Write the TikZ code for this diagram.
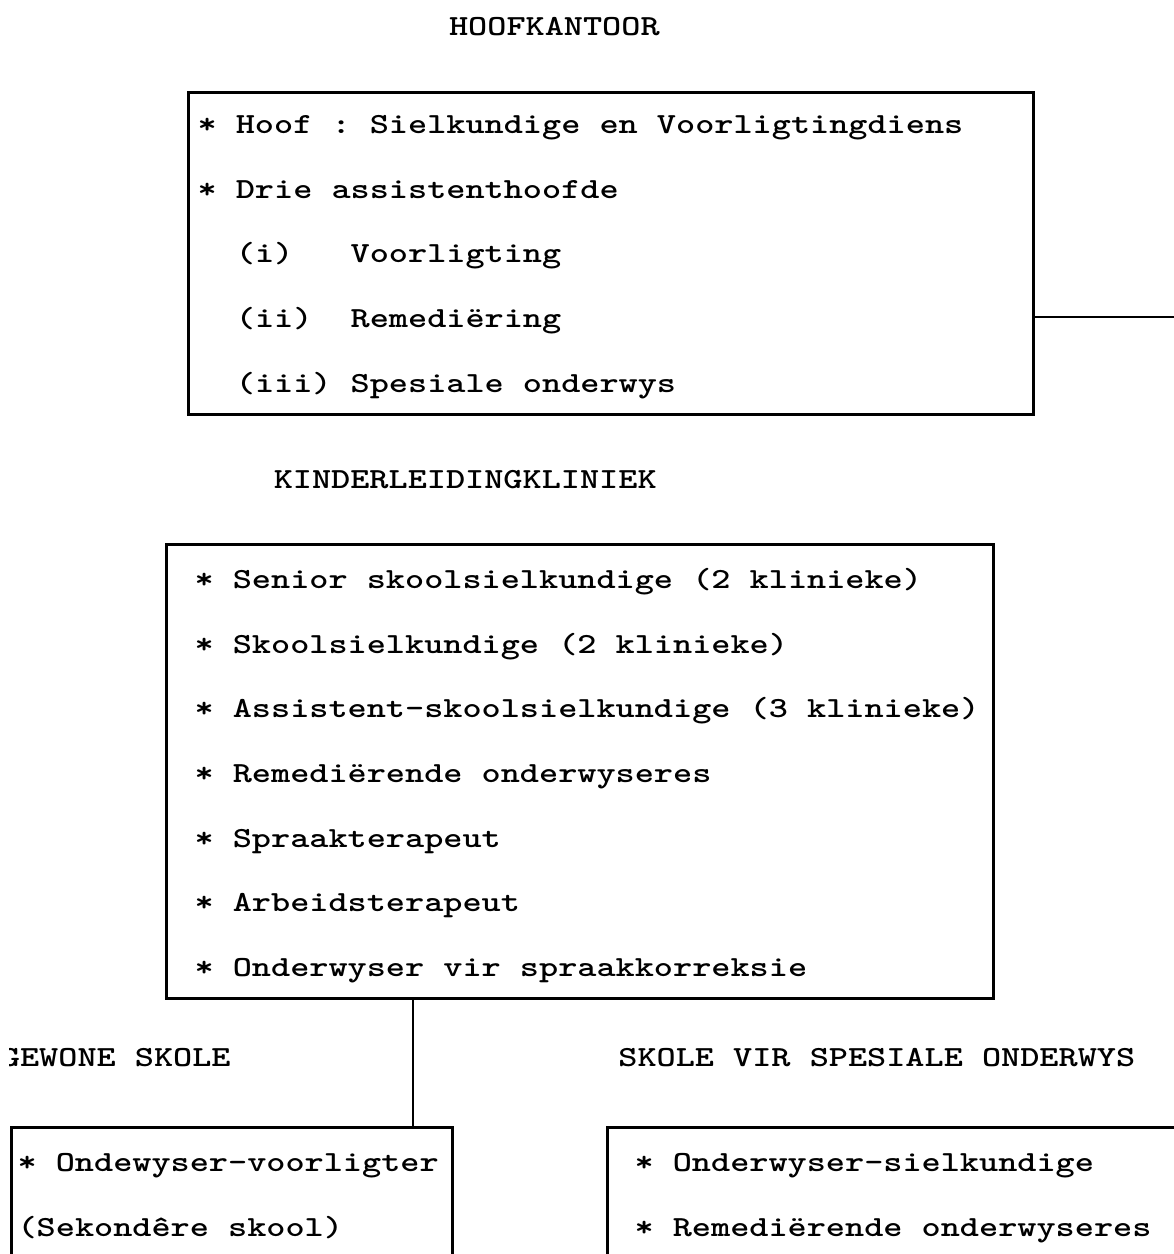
\documentclass[tikz,border=0pt]{standalone}
\usepackage{fontspec}
\usepackage{tikz}
\usetikzlibrary{positioning}
\newfontfamily\tikmono{lmmonolt10-bold.otf}[FakeStretch=1.25]

\tikzset{
  kop/.style={font={\tikmono\fontsize{16.6pt}{36.8pt}\selectfont\frenchspacing
    \spaceskip=10.89pt\relax}, inner sep=0pt},
  blok/.style={kop, draw, line width=1.8pt, anchor=north west, align=left,
    execute at begin node={\leftskip=#1\spaceskip=10.89pt\xspaceskip=10.89pt\relax}},
  lyn/.style={line width=1.6pt}
}

\begin{document}
\begin{tikzpicture}[x=0.2mm,y=-0.2mm]
        \useasboundingbox (0,0) rectangle (1174,1254);
        % hoofkantoor
        \node[kop, anchor=east] (hk) at (660,27) {HOOFKANTOOR};
        \node[blok=1.8mm, text width=169mm, text height=8.2mm, text depth=56.2mm] (hoof) at (187,91)
            {{*} Hoof : Sielkundige en Voorligtingdiens\\
             {*} Drie assistenthoofde\\
             \mbox{}\ \ (i)\ \ \ Voorligting\\
             \mbox{}\ \ (ii)\ \ Remediëring\\
             \mbox{}\ \ (iii)\ Spesiale onderwys};
        % kliniek
        \node[kop, anchor=east] (kk) at (657,480) {KINDERLEIDINGKLINIEK};
        \node[blok=5.6mm, text width=165.4mm, text height=8.8mm, text depth=82mm] (klin) at (165,543)
            {{*} Senior skoolsielkundige (2 klinieke)\\
             {*} Skoolsielkundige (2 klinieke)\\
             {*} Assistent-skoolsielkundige (3 klinieke)\\
             {*} Remediërende onderwyseres\\
             {*} Spraakterapeut\\
             {*} Arbeidsterapeut\\
             {*} Onderwyser vir spraakkorreksie};
        % skole
        \begin{scope}
            \clip (9,1030) rectangle (1174,1090);
            \node[kop, anchor=east] (gwt) at (231,1058) {GEWONE SKOLE};
        \end{scope}
        \node[kop, right=77.4mm of gwt] (spt) {SKOLE VIR SPESIALE ONDERWYS};
        \node[blok=1.2mm, text width=88.2mm, text height=8.8mm, text depth=40mm] (gewoon) at (10,1126)
            {{*} Ondewyser-voorligter\\
             (Sekondêre skool)};
        \node[blok=5.4mm, text width=130mm, text height=8.8mm, text depth=40mm] (spes) at (606,1126)
            {{*} Onderwyser-sielkundige\\
             {*} Remediërende onderwyseres};
        \coordinate (rand) at (1174,317);
        \coordinate (tak) at (413,1126);
        \path[lyn]
            (hoof.east |- rand) edge (rand)
            (klin.south -| tak) edge (tak);
    \end{tikzpicture}
\end{document}
